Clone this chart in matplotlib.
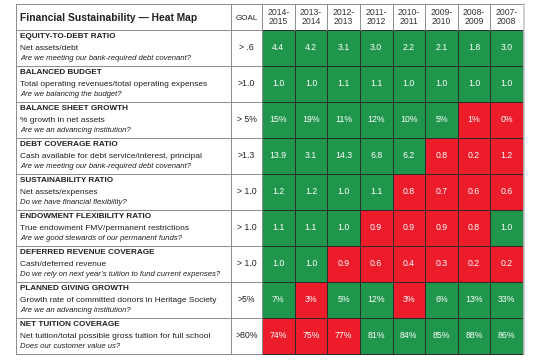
import numpy as np
import matplotlib
matplotlib.use("Agg")
import matplotlib.pyplot as plt
from matplotlib.colors import ListedColormap

years = ["2014-\n2015", "2013-\n2014", "2012-\n2013", "2011-\n2012", "2010-\n2011",
         "2009-\n2010", "2008-\n2009", "2007-\n2008"]
titles = ["EQUITY-TO-DEBT RATIO", "BALANCED BUDGET", "BALANCE SHEET GROWTH",
          "DEBT COVERAGE RATIO", "SUSTAINABILITY RATIO", "ENDOWMENT FLEXIBILITY RATIO",
          "DEFERRED REVENUE COVERAGE", "PLANNED GIVING GROWTH", "NET TUITION COVERAGE"]
formulas = ["Net assets/debt",
            "Total operating revenues/total operating expenses",
            "% growth in net assets",
            "Cash available for debt service/interest, principal",
            "Net assets/expenses",
            "True endowment FMV/permanent restrictions",
            "Cash/deferred revenue",
            "Growth rate of committed donors in Heritage Society",
            "Net tuition/total possible gross tuition for full school"]
questions = ["Are we meeting our bank-required debt covenant?",
             "Are we balancing the budget?",
             "Are we an advancing institution?",
             "Are we meeting our bank-required debt covenant?",
             "Do we have financial flexibility?",
             "Are we good stewards of our permanent funds?",
             "Do we rely on next year\u2019s tuition to fund current expenses?",
             "Are we an advancing institution?",
             "Does our customer value us?"]
goals = ["> .6", ">1.0", "> 5%", ">1.3", "> 1.0", "> 1.0", "> 1.0", ">5%", ">80%"]
values = [
    ["4.4", "4.2", "3.1", "3.0", "2.2", "2.1", "1.8", "3.0"],
    ["1.0", "1.0", "1.1", "1.1", "1.0", "1.0", "1.0", "1.0"],
    ["15%", "19%", "11%", "12%", "10%", "5%", "1%", "0%"],
    ["13.9", "3.1", "14.3", "6.8", "6.2", "0.8", "0.2", "1.2"],
    ["1.2", "1.2", "1.0", "1.1", "0.8", "0.7", "0.6", "0.6"],
    ["1.1", "1.1", "1.0", "0.9", "0.9", "0.9", "0.8", "1.0"],
    ["1.0", "1.0", "0.9", "0.6", "0.4", "0.3", "0.2", "0.2"],
    ["7%", "3%", "5%", "12%", "3%", "6%", "13%", "33%"],
    ["74%", "75%", "77%", "81%", "84%", "85%", "88%", "86%"],
]
# 1 = goal met (green), 0 = missed (red)
status = [
    [1, 1, 1, 1, 1, 1, 1, 1],
    [1, 1, 1, 1, 1, 1, 1, 1],
    [1, 1, 1, 1, 1, 1, 0, 0],
    [1, 1, 1, 1, 1, 0, 0, 0],
    [1, 1, 1, 1, 0, 0, 0, 0],
    [1, 1, 1, 0, 0, 0, 0, 1],
    [1, 1, 0, 0, 0, 0, 0, 0],
    [1, 0, 1, 1, 0, 1, 1, 1],
    [0, 0, 0, 1, 1, 1, 1, 1],
]

GREEN = "#20964c"
RED = "#ec1c2a"
TXT = "#231f20"
LINE = "#8c8c8c"
FONT = ["Liberation Sans Narrow", "Liberation Sans", "DejaVu Sans"]
plt.rcParams["font.family"] = FONT

fig = plt.figure(figsize=(5.4, 3.6), dpi=100)
ax = fig.add_axes([0, 0, 1, 1])
ax.set_xlim(0, 540)
ax.set_ylim(360, 0)
ax.axis("off")

# layout (pixels)
x_left, x_goal, x_yr, x_right = 16, 231, 262, 523
y_top, y_head, row_h = 4, 30, 36
n_rows, n_cols = len(titles), len(years)
y_bot = y_head + n_rows * row_h

xe = np.linspace(x_yr, x_right, n_cols + 1)
ye = y_head + row_h * np.arange(n_rows + 1)
ax.pcolormesh(xe, ye, np.array(status), cmap=ListedColormap([RED, GREEN]),
              vmin=0, vmax=1, edgecolors="#2b2b2b", linewidth=0.6)

# table frame/lines for the text part
for y in ye:
    ax.plot([x_left, x_yr], [y, y], color=LINE, lw=0.7)
ax.plot([x_left, x_right], [y_top, y_top], color=LINE, lw=0.7)
for x in [x_left, x_goal, x_yr]:
    ax.plot([x, x], [y_top, y_bot], color=LINE, lw=0.7)
for x in xe[1:-1]:
    ax.plot([x, x], [y_top, y_head], color=LINE, lw=0.7)
ax.plot([x_right + 0.5, x_right + 0.5], [y_top, y_bot], color="#c8c8c8", lw=1.2)

# header
ax.text(x_left + 4, 18, "Financial Sustainability \u2014 Heat Map", fontsize=7.4,
        fontweight="bold", color=TXT, va="center", ha="left")
ax.text((x_goal + x_yr) / 2, 18.5, "GOAL", fontsize=5.8, color=TXT, ha="center", va="center")
xc = (xe[:-1] + xe[1:]) / 2
for j, yr in enumerate(years):
    ax.text(xc[j], 17, yr, fontsize=6.2, color="#333333", ha="center", va="center",
            linespacing=0.95)

# rows
for i in range(n_rows):
    y0 = ye[i]
    ax.text(x_left + 4, y0 + 7, titles[i], fontsize=5.9, fontweight="bold", color=TXT,
            va="center", ha="left")
    ax.text(x_left + 4, y0 + 18, formulas[i], fontsize=6.0, color=TXT, va="center", ha="left")
    ax.text(x_left + 4, y0 + 29, questions[i], fontsize=5.6, style="italic", color=TXT,
            va="center", ha="left")
    ax.text((x_goal + x_yr) / 2, y0 + row_h / 2, goals[i], fontsize=6.3, color=TXT,
            ha="center", va="center")
    for j in range(n_cols):
        ax.text(xc[j], y0 + row_h / 2, values[i][j], fontsize=6.3, color="white",
                ha="center", va="center")

fig.savefig("out.png", dpi=100)
